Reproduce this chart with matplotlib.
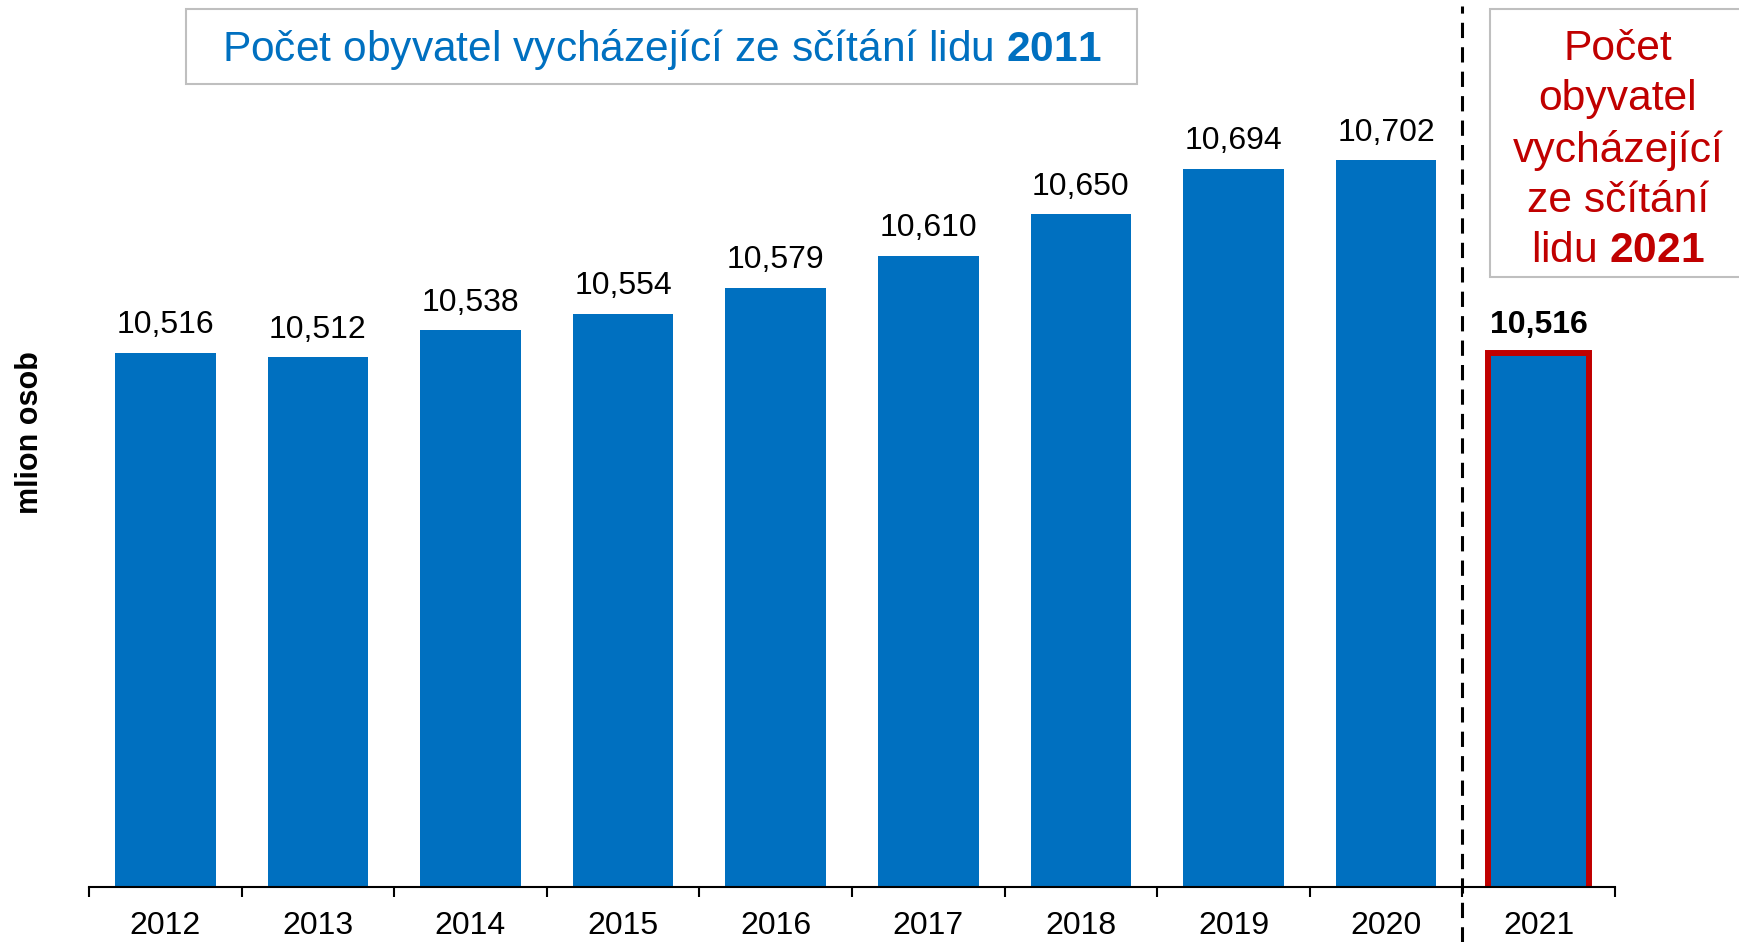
import matplotlib
matplotlib.use("Agg")
import matplotlib.pyplot as plt
from matplotlib.patches import Rectangle
from matplotlib.lines import Line2D
import matplotlib.transforms as mtransforms

plt.rcParams['font.family'] = ['Liberation Sans', 'DejaVu Sans']
plt.rcParams['mathtext.fontset'] = 'custom'
plt.rcParams['mathtext.rm'] = 'Liberation Sans'
plt.rcParams['mathtext.bf'] = 'Liberation Sans:bold'

years = ['2012', '2013', '2014', '2015', '2016', '2017', '2018', '2019', '2020', '2021']
values = [10.516, 10.512, 10.538, 10.554, 10.579, 10.610, 10.650, 10.694, 10.702, 10.516]
labels = ['10,516', '10,512', '10,538', '10,554', '10,579', '10,610', '10,650', '10,694', '10,702', '10,516']
y_label = 'mlion osob'
title_2011 = r'Počet obyvatel vycházející ze sčítání lidu $\mathbf{2011}$'
title_2021 = 'Počet\nobyvatel\nvycházející\nze sčítání\nlidu $\\mathbf{2021}$'

blue = '#0070C0'
red = '#C00000'
W, H = 1740, 942

fig = plt.figure(figsize=(17.4, 9.42), dpi=100)
ax = fig.add_axes([89 / W, (H - 887) / H, 1526 / W, 828 / H])

x = list(range(len(years)))
bars = ax.bar(x, values, width=0.66, color=blue, zorder=2)
# highlight last bar
last = bars[-1]
last.set_edgecolor(red)
last.set_linewidth(4.3)

ax.set_ylim(10.0, 10.8)
ax.set_xlim(-0.5, len(years) - 0.5)

for i, (v, lab) in enumerate(zip(values, labels)):
    bold = (i == len(values) - 1)
    ax.annotate(lab, (i, v), xytext=(0, 9), textcoords='offset points',
                ha='center', va='bottom', fontsize=23,
                fontweight='bold' if bold else 'normal', color='black')

for s in ['left', 'right', 'top']:
    ax.spines[s].set_visible(False)
ax.spines['bottom'].set_linewidth(1.5)
ax.set_yticks([])
ax.set_xticks(x)
ax.set_xticklabels(years, fontsize=23)
ax.tick_params(axis='x', which='major', length=0, pad=17)
ax.set_xticks([i - 0.5 for i in range(len(years) + 1)], minor=True)
ax.tick_params(axis='x', which='minor', length=7, width=1.5, direction='out')

# dashed separator line
trans = mtransforms.blended_transform_factory(ax.transData, fig.transFigure)
sep = Line2D([8.5, 8.5], [0.0, 1 - 6 / H], transform=trans, color='black',
             linestyle=(0, (5, 3)), linewidth=2.2, clip_on=False, zorder=5)
fig.add_artist(sep)

# y label
fig.text(30 / W, 1 - 433 / H, y_label, rotation=90, ha='center', va='center',
         fontsize=22, fontweight='bold')

# Title box 2011
fig.add_artist(Rectangle((186 / W, 1 - 84 / H), (1137 - 186) / W, 75 / H,
                         transform=fig.transFigure, facecolor='white',
                         edgecolor='#BFBFBF', linewidth=1.5))
fig.text(662 / W, 1 - 49 / H, title_2011, ha='center', va='center',
         fontsize=30.6, color=blue)

# Title box 2021
fig.add_artist(Rectangle((1490 / W, 1 - 277 / H), (1745 - 1490) / W, 268 / H,
                         transform=fig.transFigure, facecolor='white',
                         edgecolor='#BFBFBF', linewidth=1.5))
fig.text(1618 / W, 1 - 150 / H, title_2021, ha='center', va='center',
         fontsize=30.7, color=red, linespacing=1.32, multialignment='center')

fig.savefig('out.png', dpi=100)
